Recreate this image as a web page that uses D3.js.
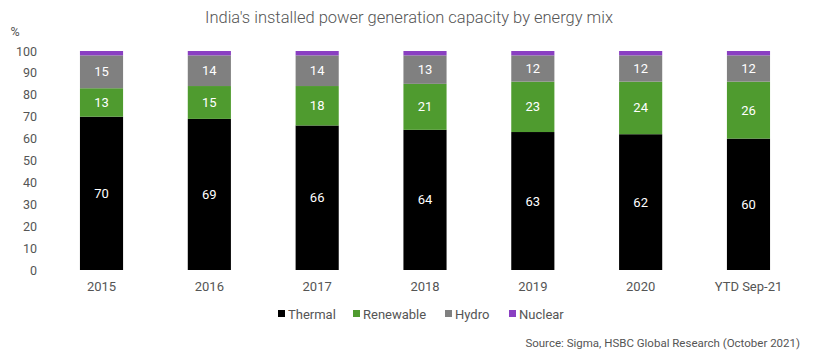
<!DOCTYPE html>
<html><head><meta charset="utf-8">
<script src="https://cdn.jsdelivr.net/npm/d3@7"></script>
<style>body{margin:0;background:#fff}text{font-family:Roboto,"Liberation Sans",sans-serif}</style>
</head><body><svg id="c" width="820" height="356"></svg>
<script>
const categories = ["2015","2016","2017","2018","2019","2020","YTD Sep-21"];
const seriesNames = ["Thermal","Renewable","Hydro","Nuclear"];
const thermal =   [70,69,66,64,63,62,60];
const renewable = [13,15,18,21,23,24,26];
const hydro =     [15,14,14,13,12,12,12];
const nuclear =   [2,2,2,2,2,2,2];
const yTicks = [0,10,20,30,40,50,60,70,80,90,100];
const colors = ["#000000","#4f9b2f","#808080","#8a3fc2"];

const rows = categories.map((c,i)=>({cat:c,Thermal:thermal[i],Renewable:renewable[i],Hydro:hydro[i],Nuclear:nuclear[i]}));
const svg = d3.select("#c");
const x = d3.scaleBand().domain(categories).range([47.6,802.4]).paddingInner(0.6).paddingOuter(0.3);
const y = d3.scaleLinear().domain([0,100]).range([270,51]);
const color = d3.scaleOrdinal().domain(seriesNames).range(colors);
const stack = d3.stack().keys(seriesNames)(rows);

svg.append("text").attr("x",409).attr("y",23).attr("text-anchor","middle")
  .attr("font-size",16.5).attr("font-weight",300).attr("fill","#555").text("India's installed power generation capacity by energy mix");
svg.append("text").attr("x",15).attr("y",36).attr("text-anchor","middle").attr("font-size",12.5).attr("fill","#555").text("%");

const ya = svg.append("g").attr("transform","translate(37,0)").call(d3.axisLeft(y).tickValues(yTicks).tickSize(0).tickPadding(0));
ya.select(".domain").remove();
ya.selectAll("text").attr("font-size",12.5).attr("fill","#555").attr("font-family","Roboto");

const xa = svg.append("g").attr("transform","translate(0,270)").call(d3.axisBottom(x).tickSize(0).tickPadding(12));
xa.select(".domain").remove();
xa.selectAll("text").attr("font-size",13).attr("fill","#555").attr("font-family","Roboto");

const g = svg.append("g");
stack.forEach(layer=>{
  const key = layer.key;
  g.selectAll(null).data(layer).enter().append("rect")
    .attr("x",d=>x(d.data.cat)).attr("width",x.bandwidth())
    .attr("y",d=>y(d[1])).attr("height",d=>y(d[0])-y(d[1]))
    .attr("fill",color(key));
  if(key!=="Nuclear"){
    g.selectAll(null).data(layer).enter().append("text")
      .attr("x",d=>x(d.data.cat)+x.bandwidth()/2).attr("y",d=>y((d[0]+d[1])/2)+4.5)
      .attr("text-anchor","middle").attr("font-size",13).attr("fill","#fff")
      .text(d=>d.data[key]);
  }
});

const legX = [278,353,445,509];
const leg = svg.append("g");
seriesNames.forEach((s,i)=>{
  leg.append("rect").attr("x",legX[i]).attr("y",310).attr("width",7).attr("height",7).attr("fill",color(s));
  leg.append("text").attr("x",legX[i]+10).attr("y",318.5).attr("font-size",13).attr("fill","#555").text(s);
});
svg.append("text").attr("x",800).attr("y",347).attr("text-anchor","end").attr("font-size",11.5).attr("fill","#555").text("Source: Sigma, HSBC Global Research (October 2021)");
</script></body></html>
